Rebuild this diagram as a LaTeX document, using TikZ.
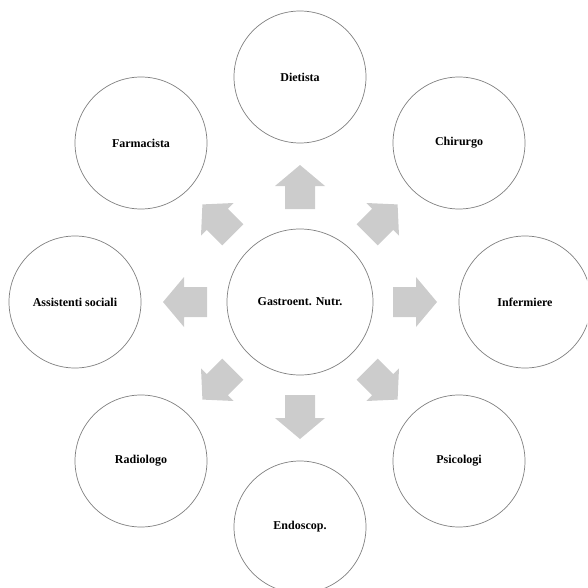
\documentclass[tikz,border=0pt]{standalone}
\usepackage{fontspec}
\setmainfont{Liberation Serif}
\begin{document}
\begin{tikzpicture}[x=1pt,y=-1pt,
  role/.style={circle,draw=black!50,line width=0.7pt,fill=white,
    minimum size=132pt,inner sep=0pt,
    font=\fontsize{12}{14}\selectfont\bfseries},
  hub/.style={role,minimum size=146pt},
  blockfill/.style={fill=black!20,draw=none}]
\useasboundingbox (0,0) rectangle (587,588);
\clip (0,0) rectangle (587,588);

% central discipline
\node[hub] (hub) at (300,302) {Gastroent. Nutr.};

% surrounding roles, every 45 degrees on a ring of radius 225
\node[role] (diet)  at (300,77)  {Dietista};
\node[role] (chir)  at (459,143) {Chirurgo};
\node[role] (inf)   at (525,302) {Infermiere};
\node[role] (psi)   at (459,461) {Psicologi};
\node[role] (endo)  at (300,527) {Endoscop.};
\node[role] (rad)   at (141,461) {Radiologo};
\node[role] (ass)   at (75,302)  {Assistenti sociali};
\node[role] (farm)  at (141,143) {Farmacista};

% block arrows pointing outwards (straight ones)
\foreach \a in {0,90,180,270}{
  \begin{scope}[shift={(hub.center)},rotate=\a]
    \fill[blockfill] (93,-15) -- (116,-15) -- (116,-25) -- (137,0)
      -- (116,25) -- (116,15) -- (93,15) -- cycle;
  \end{scope}}
% diagonal ones, with a slightly narrower head
\foreach \a in {45,135,225,315}{
  \begin{scope}[shift={(hub.center)},rotate=\a]
    \fill[blockfill] (95,-15) -- (117,-15) -- (117,-23) -- (138,0)
      -- (117,23) -- (117,15) -- (95,15) -- cycle;
  \end{scope}}
\end{tikzpicture}
\end{document}
